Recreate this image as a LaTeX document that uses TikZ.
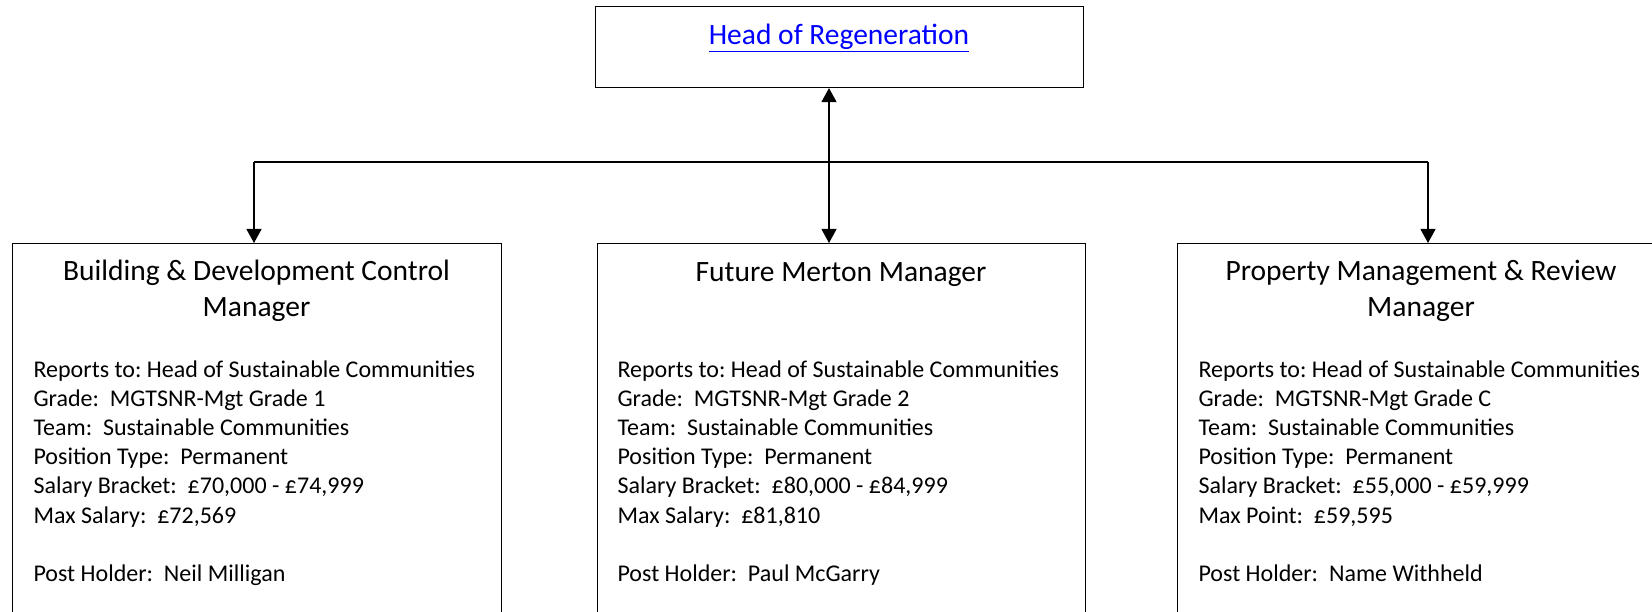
\documentclass[tikz,border=0pt]{standalone}
\usepackage{fontspec}
\setmainfont{Carlito}
\usetikzlibrary{arrows.meta}
\definecolor{linkblue}{RGB}{0,0,255}
\frenchspacing
\begin{document}
\frenchspacing
\begin{tikzpicture}[x=1pt,y=-1pt,line width=1.1pt,
  box/.style={draw=black,rectangle,inner sep=0pt,anchor=north west},
  tip/.style={-{Triangle[length=14pt,width=15pt]}},
  dtip/.style={{Triangle[length=14pt,width=15pt]}-{Triangle[length=14pt,width=15pt]}},
  ttl/.style={anchor=base,inner sep=0pt,font=\fontsize{29.5}{36}\selectfont},
  bdy/.style={anchor=base west,inner sep=0pt,font=\fontsize{24}{29.2}\selectfont}]
\useasboundingbox (0,0) rectangle (1652,612);
\clip (0,0) rectangle (1652,612);
\fill[white] (0,0) rectangle (1652,612);

% boxes
\node[box,minimum width=488pt,minimum height=81pt] (head) at (595,6) {};
\node[box,minimum width=489pt,minimum height=420pt] (b1) at (12,243) {};
\node[box,minimum width=488pt,minimum height=420pt] (b2) at (597,243) {};
\node[box,minimum width=488pt,minimum height=420pt] (b3) at (1177,243) {};

% texts
\node[anchor=base,inner sep=0pt,font=\fontsize{29.5}{33}\selectfont,text=linkblue] (headt) at (839,45) {\underline{Head of Regeneration}};

\node[ttl] (t1) at (256.5,281) {\parbox[t]{480pt}{\centering Building \& Development Control\\Manager}};
\node[ttl] (t2) at (841,282) {\parbox[t]{480pt}{\centering Future Merton Manager}};
\node[ttl] (t3) at (1421,281) {\parbox[t]{480pt}{\centering Property Management \& Review\\Manager}};

\node[bdy] (d1) at (33,377) {\parbox[t]{470pt}{Reports to: Head of Sustainable Communities\\Grade:~ MGTSNR-Mgt Grade 1\\Team:~ Sustainable Communities\\Position Type:~ Permanent\\Salary Bracket:~ £70,000 - £74,999\\Max Salary:~ £72,569\\[29.2pt]Post Holder:~ Neil Milligan}};
\node[bdy] (d2) at (617,377) {\parbox[t]{470pt}{Reports to: Head of Sustainable Communities\\Grade:~ MGTSNR-Mgt Grade 2\\Team:~ Sustainable Communities\\Position Type:~ Permanent\\Salary Bracket:~ £80,000 - £84,999\\Max Salary:~ £81,810\\[29.2pt]Post Holder:~ Paul McGarry}};
\node[bdy] (d3) at (1198,377) {\parbox[t]{470pt}{Reports to: Head of Sustainable Communities\\Grade:~ MGTSNR-Mgt Grade C\\Team:~ Sustainable Communities\\Position Type:~ Permanent\\Salary Bracket:~ £55,000 - £59,999\\Max Point:~ £59,595\\[29.2pt]Post Holder:~ Name Withheld}};

% connectors
\coordinate (jl) at (254,162);
\coordinate (jm) at (829,162);
\coordinate (jr) at (1428,162);
\draw (jl) -- (jr);
\draw[dtip] (jm |- head.south) -- (jm |- b2.north);
\draw[tip] (jl) -- (jl |- b1.north);
\draw[tip] (jr) -- (jr |- b3.north);
\end{tikzpicture}
\end{document}
